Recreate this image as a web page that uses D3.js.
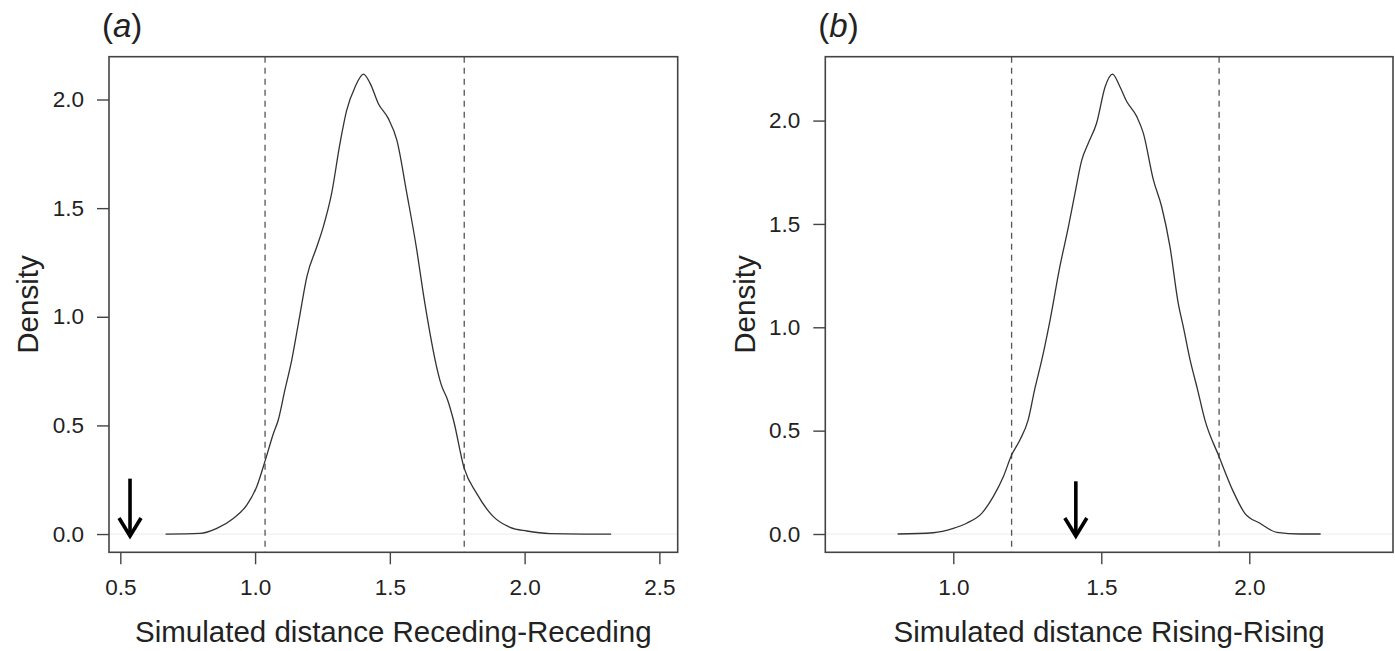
<!DOCTYPE html>
<html>
<head>
<meta charset="utf-8">
<script src="https://cdn.jsdelivr.net/npm/d3@7/dist/d3.min.js"></script>
<style>
  html, body { margin: 0; padding: 0; background: #fff; }
  svg { display: block; font-family: "Liberation Sans", Arial, Helvetica, sans-serif; }
</style>
</head>
<body>
<svg id="chart" width="1395" height="651"></svg>
<script>
// ---------------- data ----------------
const panelLabels = ["a", "b"];
const xTitles = ["Simulated distance Receding-Receding", "Simulated distance Rising-Rising"];
const yTitle = "Density";

const xTicksA = [0.5, 1.0, 1.5, 2.0, 2.5];
const yTicksA = [0.0, 0.5, 1.0, 1.5, 2.0];
const xTicksB = [1.0, 1.5, 2.0];
const yTicksB = [0.0, 0.5, 1.0, 1.5, 2.0];

// density curve, panel (a): [distance, density]
const densityA = [
  [0.668, 0.000], [0.796, 0.003], [0.858, 0.026], [0.919, 0.072], [0.969, 0.133],
  [1.006, 0.218], [1.038, 0.340], [1.068, 0.463], [1.086, 0.525], [1.110, 0.660],
  [1.136, 0.801], [1.165, 1.000], [1.192, 1.184], [1.229, 1.322], [1.253, 1.414],
  [1.284, 1.568], [1.315, 1.798], [1.340, 1.951], [1.371, 2.058], [1.402, 2.117],
  [1.427, 2.074], [1.457, 1.982], [1.494, 1.913], [1.526, 1.813], [1.563, 1.568],
  [1.600, 1.307], [1.624, 1.108], [1.649, 0.924], [1.668, 0.801], [1.690, 0.690],
  [1.715, 0.615], [1.736, 0.525], [1.776, 0.302], [1.822, 0.187], [1.884, 0.080],
  [1.946, 0.031], [2.008, 0.014], [2.094, 0.002], [2.218, 0.000], [2.321, 0.000]
];
// density curve, panel (b)
const densityB = [
  [0.812, 0.000], [0.932, 0.006], [1.000, 0.027], [1.045, 0.052], [1.096, 0.100],
  [1.135, 0.181], [1.169, 0.277], [1.197, 0.382], [1.225, 0.455], [1.253, 0.552],
  [1.275, 0.700], [1.299, 0.842], [1.327, 1.035], [1.360, 1.293], [1.389, 1.487],
  [1.411, 1.648], [1.434, 1.809], [1.456, 1.890], [1.484, 1.987], [1.513, 2.164],
  [1.538, 2.225], [1.563, 2.164], [1.586, 2.092], [1.620, 2.019], [1.642, 1.939],
  [1.676, 1.713], [1.704, 1.583], [1.732, 1.390], [1.760, 1.116], [1.777, 1.003],
  [1.800, 0.842], [1.825, 0.700], [1.850, 0.552], [1.898, 0.374], [1.946, 0.205],
  [1.985, 0.100], [2.036, 0.052], [2.093, 0.008], [2.171, 0.000], [2.241, 0.000]
];

// 95% interval (dashed lines) and observed value (arrow)
const intervalA = [1.037, 1.776];
const intervalB = [1.197, 1.898];
const observedA = 0.536;
const observedB = 1.414;
const arrowTop = 0.255;

// ---------------- layout ----------------
const panels = [
  { label: panelLabels[0], xTitle: xTitles[0], xTicks: xTicksA, yTicks: yTicksA,
    data: densityA, interval: intervalA, observed: observedA,
    left: 109, right: 677.7, top: 56.7, bottom: 552.3,
    xDomain: [0.458, 2.568], yDomain: [-0.084, 2.197] },
  { label: panelLabels[1], xTitle: xTitles[1], xTicks: xTicksB, yTicks: yTicksB,
    data: densityB, interval: intervalB, observed: observedB,
    left: 825.3, right: 1393, top: 56.7, bottom: 552.3,
    xDomain: [0.5676, 2.4855], yDomain: [-0.0885, 2.309] }
];

const svg = d3.select("#chart");
const ink = "#222";
const frame = "#444";
const fmt = d3.format(".1f");

panels.forEach(p => {
  const x = d3.scaleLinear().domain(p.xDomain).range([p.left, p.right]);
  const y = d3.scaleLinear().domain(p.yDomain).range([p.bottom, p.top]);
  const g = svg.append("g");

  // zero line
  g.append("line")
    .attr("x1", p.left).attr("x2", p.right)
    .attr("y1", y(0)).attr("y2", y(0))
    .attr("stroke", "#ececec").attr("stroke-width", 1);

  // dashed interval lines
  p.interval.forEach(v => {
    g.append("line")
      .attr("x1", x(v)).attr("x2", x(v))
      .attr("y1", p.top).attr("y2", p.bottom)
      .attr("stroke", "#555").attr("stroke-width", 1.3)
      .attr("stroke-dasharray", "6,5");
  });

  // density curve
  const line = d3.line()
    .x(d => x(d[0])).y(d => y(d[1]))
    .curve(d3.curveMonotoneX);
  g.append("path")
    .datum(p.data)
    .attr("d", line)
    .attr("fill", "none")
    .attr("stroke", "#333")
    .attr("stroke-width", 1.3);

  // arrow (observed value)
  const ax = x(p.observed), ay0 = y(arrowTop), ay1 = y(0) + 2;
  g.append("line")
    .attr("x1", ax).attr("x2", ax).attr("y1", ay0).attr("y2", ay1 - 1)
    .attr("stroke", "#000").attr("stroke-width", 3.6);
  g.append("path")
    .attr("d", `M${ax - 11},${ay1 - 18} L${ax},${ay1} L${ax + 11},${ay1 - 18}`)
    .attr("fill", "none").attr("stroke", "#000").attr("stroke-width", 3.6)
    .attr("stroke-linejoin", "miter");

  // box
  g.append("rect")
    .attr("x", p.left).attr("y", p.top)
    .attr("width", p.right - p.left).attr("height", p.bottom - p.top)
    .attr("fill", "none").attr("stroke", frame).attr("stroke-width", 1.6);

  // x axis
  const xa = g.append("g")
    .attr("transform", `translate(0,${p.bottom})`)
    .call(d3.axisBottom(x).tickValues(p.xTicks).tickFormat(fmt).tickSize(12).tickPadding(15));
  // y axis
  const ya = g.append("g")
    .attr("transform", `translate(${p.left},0)`)
    .call(d3.axisLeft(y).tickValues(p.yTicks).tickFormat(fmt).tickSize(12).tickPadding(13));
  [xa, ya].forEach(a => {
    a.select(".domain").remove();
    a.selectAll(".tick line").attr("stroke", frame).attr("stroke-width", 1.4);
    a.selectAll(".tick text")
      .attr("fill", ink)
      .style("font-size", "22.5px")
      .style("font-family", "'Liberation Sans', Arial, Helvetica, sans-serif");
  });

  // axis titles
  g.append("text")
    .attr("x", (p.left + p.right) / 2).attr("y", 642)
    .attr("text-anchor", "middle")
    .attr("fill", ink).style("font-size", "29.5px")
    .text(p.xTitle);
  g.append("text")
    .attr("transform", `translate(${p.left - 81},${(p.top + p.bottom) / 2}) rotate(-90)`)
    .attr("text-anchor", "middle")
    .attr("dy", "0.35em")
    .attr("fill", ink).style("font-size", "29.5px")
    .text(yTitle);

  // panel label
  const t = g.append("text")
    .attr("x", p.left - 7).attr("y", 37)
    .attr("fill", ink).style("font-size", "33px");
  t.append("tspan").text("(");
  t.append("tspan").style("font-style", "italic").text(p.label);
  t.append("tspan").text(")");
});
</script>
</body>
</html>
